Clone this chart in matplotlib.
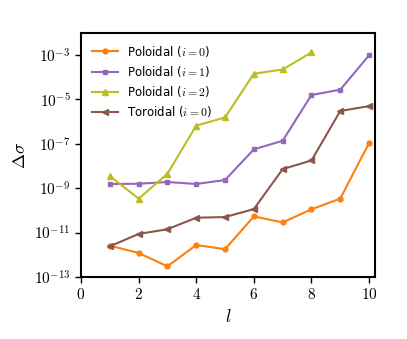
import numpy as np
import matplotlib.pyplot as plt

plt.rcParams['mathtext.fontset'] = 'cm'
plt.rcParams['font.family'] = 'DejaVu Sans'

l = np.arange(1, 11)
l_p2 = np.arange(1, 9)

# log10 of the error
pol0 = [-11.59, -11.92, -12.52, -11.56, -11.75, -10.27, -10.54, -9.95, -9.47, -6.96]
pol1 = [-8.81, -8.80, -8.72, -8.81, -8.63, -7.25, -6.86, -4.80, -4.56, -3.01]
pol2 = [-8.45, -9.47, -8.35, -6.18, -5.81, -3.84, -3.65, -2.88]
tor0 = [-11.62, -11.06, -10.85, -10.33, -10.30, -9.94, -8.14, -7.75, -5.52, -5.30]

fig = plt.figure(figsize=(4.07, 3.39), dpi=100)
ax = fig.add_axes([0.199, 0.183, 0.722, 0.72])

ax.plot(l, 10.0**np.array(pol0), '-o', color='tab:orange', ms=3.5, lw=1.5, label=r'Poloidal ($i=0$)')
ax.plot(l, 10.0**np.array(pol1), '-s', color='tab:purple', ms=3.5, lw=1.5, label=r'Poloidal ($i=1$)')
ax.plot(l_p2, 10.0**np.array(pol2), '-^', color='tab:olive', ms=4, lw=1.5, label=r'Poloidal ($i=2$)')
ax.plot(l, 10.0**np.array(tor0), '-<', color='tab:brown', ms=4, lw=1.5, label=r'Toroidal ($i=0$)')

ax.set_yscale('log')
ax.set_xlim(0, 10.2)
ax.set_ylim(1e-13, 1e-2)
ax.set_xticks([0, 2, 4, 6, 8, 10])
ax.set_xticklabels([r'$0$', r'$2$', r'$4$', r'$6$', r'$8$', r'$10$'])
yt = [-13, -11, -9, -7, -5, -3]
ax.set_yticks([10.0**k for k in yt])
ax.set_yticklabels([r'$10^{%d}$' % k for k in yt])
ax.minorticks_off()
ax.tick_params(labelsize=11, width=1, length=4)
for s in ax.spines.values():
    s.set_linewidth(1.5)

ax.set_xlabel(r'$l$', fontsize=13)
ax.set_ylabel(r'$\Delta\sigma$', fontsize=13)
ax.legend(loc='upper left', frameon=False, fontsize=8.5, handlelength=2.2,
          labelspacing=0.45)

fig.savefig('out.png', dpi=100)
